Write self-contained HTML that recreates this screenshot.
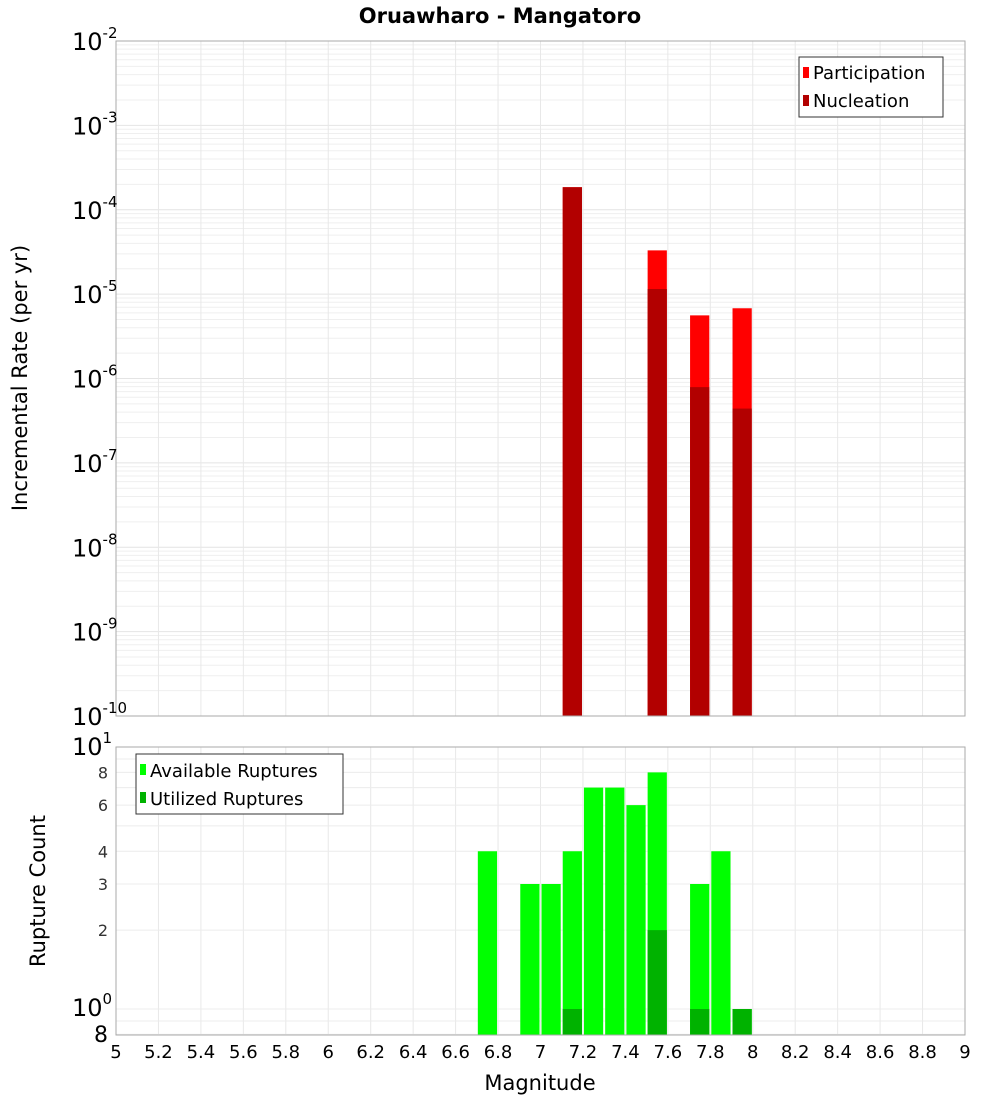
<!DOCTYPE html>
<html><head><meta charset="utf-8">
<style>
html,body{margin:0;padding:0;background:#fff;}
svg text{font-family:"DejaVu Sans","Liberation Sans",sans-serif;}
</style></head>
<body>
<svg id="chart" width="1000" height="1100" xmlns="http://www.w3.org/2000/svg">
<text x="500" y="23" text-anchor="middle" font-size="21" font-weight="bold">Oruawharo - Mangatoro</text>
<g id="topg"></g>
<g id="botg"></g>
<text transform="translate(27,378) rotate(-90)" text-anchor="middle" font-size="21">Incremental Rate (per yr)</text>
<text transform="translate(45,891) rotate(-90)" text-anchor="middle" font-size="21">Rupture Count</text>
<text x="540" y="1090" text-anchor="middle" font-size="21">Magnitude</text>
</svg>
<script>
const magBins=[7.15,7.55,7.75,7.95];
const participation=[1.85e-4,3.3e-5,5.6e-6,6.8e-6];
const nucleation=[1.85e-4,1.15e-5,7.9e-7,4.4e-7];
const countBins=[6.75,6.95,7.05,7.15,7.25,7.35,7.45,7.55,7.75,7.85,7.95];
const available=[4,3,3,4,7,7,6,8,3,4,1];
const utilizedBins=[7.15,7.55,7.75,7.95];
const utilized=[1,2,1,1];
const xTicks=[5,5.2,5.4,5.6,5.8,6,6.2,6.4,6.6,6.8,7,7.2,7.4,7.6,7.8,8,8.2,8.4,8.6,8.8,9];
const topExps=[-2,-3,-4,-5,-6,-7,-8,-9,-10];
const botMinor=[8,6,4,3,2];

const NS="http://www.w3.org/2000/svg";
const L=116,R=965;
const T1=41,B1=716,T2=747,B2=1035;
const xs=m=>L+(m-5)*(R-L)/4;
const yTop=v=>T1+(-2-Math.log10(v))*(B1-T1)/8;
const yBot=v=>T2+(1-Math.log10(v))*262;
function el(parent,tag,attrs,text){const e=document.createElementNS(NS,tag);for(const k in attrs)e.setAttribute(k,attrs[k]);if(text!==undefined)e.textContent=text;parent.appendChild(e);return e;}
const topG=document.getElementById('topg'),botG=document.getElementById('botg');
const bw=(xs(0.1)-xs(0))-2;

for(let e=-10;e<-2;e++){for(let k=1;k<10;k++){const y=yTop(k*Math.pow(10,e));if(y<T1)continue;el(topG,'line',{x1:L,x2:R,y1:y,y2:y,stroke:k===1?'#e4e4e4':'#efefef','stroke-width':1});}}
xTicks.forEach(t=>{el(topG,'line',{x1:xs(t),x2:xs(t),y1:T1,y2:B1,stroke:'#e8e8e8'});el(botG,'line',{x1:xs(t),x2:xs(t),y1:T2,y2:B2,stroke:'#e8e8e8'});});
magBins.forEach((m,i)=>{
 const p=el(topG,'rect',{x:xs(m)-bw/2,y:yTop(participation[i]),width:bw,height:B1-yTop(participation[i]),fill:'#ff0000'});
 
 
 const n=el(topG,'rect',{x:xs(m)-bw/2,y:yTop(nucleation[i]),width:bw,height:B1-yTop(nucleation[i]),fill:'#b20000'});
 
 
});
el(topG,'rect',{x:L,y:T1,width:R-L,height:B1-T1,fill:'none',stroke:'#aaa'});
topExps.forEach(e=>{const y=yTop(Math.pow(10,e));
 const t=el(topG,'text',{x:72,y:y+9,'font-size':24});
 
 
 el(t,'tspan',{},'10');el(t,'tspan',{dy:-12,'font-size':15},String(e));});
const lg=el(topG,'g',{});


el(lg,'rect',{x:799,y:57,width:144,height:60,fill:'#fff',stroke:'#333'});
el(lg,'rect',{x:803,y:67,width:6,height:11,fill:'#ff0000'});
el(lg,'text',{x:813,y:79,'font-size':18},'Participation');
el(lg,'rect',{x:803,y:95,width:6,height:11,fill:'#b20000'});
el(lg,'text',{x:813,y:107,'font-size':18},'Nucleation');

[0.8,0.9,1,2,3,4,5,6,7,8,9,10].forEach(v=>{const y=yBot(v);el(botG,'line',{x1:L,x2:R,y1:y,y2:y,stroke:'#ececec'});});
countBins.forEach((m,i)=>{const r=el(botG,'rect',{x:xs(m)-bw/2,y:yBot(available[i]),width:bw,height:B2-yBot(available[i]),fill:'#00ff00'});
 
 });
utilizedBins.forEach((m,i)=>{const r=el(botG,'rect',{x:xs(m)-bw/2,y:yBot(utilized[i]),width:bw,height:B2-yBot(utilized[i]),fill:'#00b200'});
 
 });
el(botG,'rect',{x:L,y:T2,width:R-L,height:B2-T2,fill:'none',stroke:'#aaa'});
botMinor.forEach(v=>{const t=el(botG,'text',{x:108,y:yBot(v)+6,'font-size':16,'text-anchor':'end',fill:'#333'},String(v));
 
 });
[[1,'10','0',1016],[10,'10','1',755]].forEach(([v,b,s,yy])=>{const t=el(botG,'text',{x:72,y:yy,'font-size':24});
 
 
 el(t,'tspan',{},b);el(t,'tspan',{dy:-12,'font-size':15},s);});
el(botG,'text',{x:108,y:1042,'font-size':22,'text-anchor':'end'},'8');
xTicks.forEach(t=>{const tx=el(botG,'text',{x:xs(t),y:1058,'font-size':18,'text-anchor':'middle'},String(t));
 
 });
const lg2=el(botG,'g',{});


el(lg2,'rect',{x:136,y:754,width:207,height:60,fill:'#fff',stroke:'#333'});
el(lg2,'rect',{x:140,y:764,width:6,height:11,fill:'#00ff00'});
el(lg2,'text',{x:150,y:777,'font-size':18},'Available Ruptures');
el(lg2,'rect',{x:140,y:792,width:6,height:11,fill:'#00b200'});
el(lg2,'text',{x:150,y:805,'font-size':18},'Utilized Ruptures');
</script>
</body></html>
